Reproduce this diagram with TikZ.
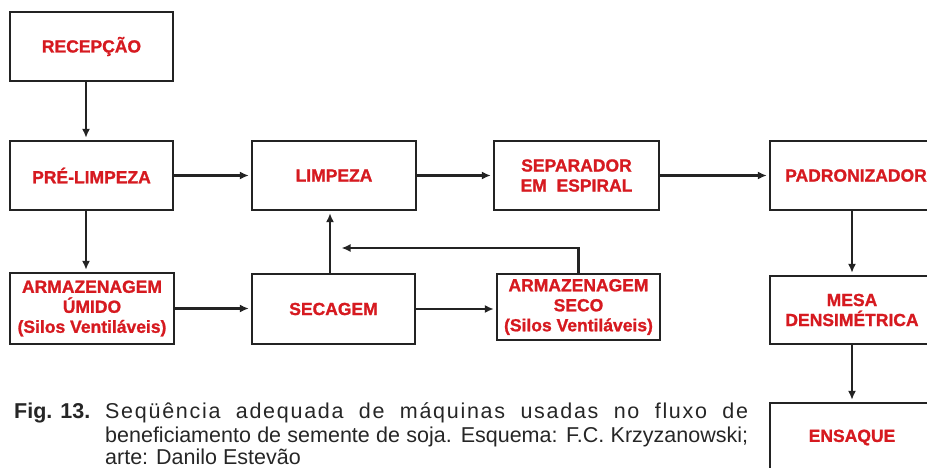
\documentclass[tikz,border=0pt]{standalone}
\usepackage{fontspec}
\setmainfont{Liberation Sans}
\usepackage{xcolor}
\usetikzlibrary{positioning,arrows.meta}
\definecolor{lblred}{RGB}{214,26,32}
\definecolor{edge}{RGB}{35,35,35}

\begin{document}
\begin{tikzpicture}[
    x=1pt, y=-1pt,
    >={Latex[length=9pt,width=8pt]},
    box/.style={draw=edge, line width=2.3pt, minimum width=163pt, minimum height=69pt, align=center, inner sep=1pt, text=lblred, font=\fontsize{17.5}{20}\selectfont\bfseries\addfontfeature{FakeBold=1.2}},
    arr/.style={->, draw=edge, line width=2.1pt, shorten >=2pt},
    captxt/.style={font=\fontsize{21.5}{23}\selectfont, anchor=base west, inner sep=0pt, text=black!85}
]
\clip[use as bounding box] (0,0) rectangle (927,468);

% left column and top row
\node[box] (rec) at (91.5,46.5) {RECEPÇÃO};
\node[box] (pre) at (91.5,175.5) {PRÉ-LIMPEZA};
\node[box, minimum width=164pt] (limp) at (334,175.5) {LIMPEZA};
\node[box, minimum width=165pt] (sep) at (576.5,175.5) {SEPARADOR\\EM~~ESPIRAL};
\node[box, minimum width=164pt] (pad) at (852,175.5) {\hspace*{8pt}PADRONIZADOR};

% storage and drying row
\node[box, minimum width=164pt, minimum height=71pt] (umido) at (92,308.5) {ARMAZENAGEM\\ÚMIDO\\(Silos Ventiláveis)};
\node[box, minimum height=70pt] (sec) at (333.5,309) {SECAGEM};
\node[box, minimum height=66pt] (seco) at (578.5,307) {ARMAZENAGEM\\SECO\\(Silos Ventiláveis)};

% right column
\node[box, minimum width=164pt, minimum height=68pt] (mesa) at (852,310) {MESA\\DENSIMÉTRICA};
\node[box, minimum width=164pt] (ens) at (852,437.5) {ENSAQUE};

\draw[arr] ([xshift=-5.5pt]rec.south) -- ([xshift=-5.5pt]pre.north);
\draw[arr] (pre) -- (limp);
\draw[arr] (limp) -- (sep);
\draw[arr] (sep) -- (pad);
\draw[arr] ([xshift=-5.5pt]pre.south) -- ([xshift=-6pt]umido.north);
\draw[arr] (umido.east) -- (umido.east -| sec.west);
\draw[arr] (sec.east) -- (sec.east -| seco.west);
\draw[arr] ([xshift=-3.5pt]sec.north) -- ([xshift=-3.5pt]sec.north |- limp.south);
\coordinate (fb) at ([xshift=6pt]sec.north |- 0,248);
\draw[arr] (seco.north) |- (fb);
\draw[arr] (pad) -- (mesa);
\draw[arr] (mesa) -- (ens);

% caption
\node[captxt] (fig) at (14,418) {\bfseries Fig. 13.};
\node[captxt] (cap1) at (105,418) {\makebox[643pt][s]{\addfontfeature{LetterSpace=8}Seqüência adequada de máquinas usadas no fluxo de}};
\node[captxt] (cap2) at (105,442) {\makebox[643pt][s]{beneficiamento de semente de soja. Esquema: F.C. Krzyzanowski;}};
\node[captxt] (cap3) at (105,464.5) {arte: Danilo Estevão};
\end{tikzpicture}
\end{document}
